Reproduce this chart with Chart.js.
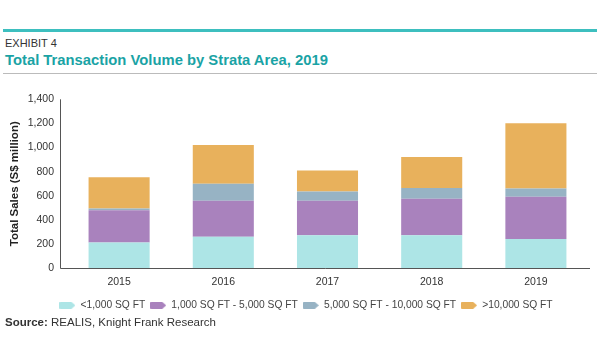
<!DOCTYPE html>
<html><head><meta charset="utf-8">
<script src="https://cdn.jsdelivr.net/npm/chart.js@4"></script>
<style>
html,body{margin:0;padding:0;background:#fff;width:600px;height:360px;overflow:hidden;font-family:"Liberation Sans",Arial,sans-serif;}
#topline{position:absolute;left:3px;top:29px;width:594px;height:3px;background:#3dbfbf;}
#exhibit{position:absolute;left:5px;top:37px;font-size:11px;color:#333;white-space:nowrap;}
#title{position:absolute;left:5px;top:52px;font-size:14.8px;font-weight:bold;color:#1aa3a5;white-space:nowrap;}
#rule{position:absolute;left:3px;top:73px;width:594px;height:1px;background:#bbb;}
#source{position:absolute;left:5px;top:316px;font-size:11.5px;color:#333;white-space:nowrap;}
#wrap{position:absolute;left:0;top:80px;width:612px;height:246px;}
</style>
</head><body>
<div id="topline"></div>
<div id="exhibit">EXHIBIT 4</div>
<div id="title">Total Transaction Volume by Strata Area, 2019</div>
<div id="rule"></div>
<div id="wrap"><canvas id="c" width="612" height="246"></canvas></div>
<div id="source"><b>Source:</b> REALIS, Knight Frank Research</div>
<script>
const categories = ['2015', '2016', '2017', '2018', '2019'];
const seriesNames = ['<1,000 SQ FT', '1,000 SQ FT - 5,000 SQ FT', '5,000 SQ FT - 10,000 SQ FT', '>10,000 SQ FT'];
const under1k = [214, 260, 273, 273, 243];
const from1kTo5k = [266, 299, 286, 303, 349];
const from5kTo10k = [16, 141, 76, 89, 68];
const over10k = [259, 322, 175, 256, 542];
const yTickValues = [0, 200, 400, 600, 800, 1000, 1200, 1400];
const yTickLabels = ['0', '200', '400', '600', '800', '1,000', '1,200', '1,400'];

const colors = ['#ade5e6', '#a982bd', '#97b3c4', '#e8b15c'];

function arrowIcon(color) {
  const cv = document.createElement('canvas');
  cv.width = 16; cv.height = 7;
  const g = cv.getContext('2d');
  g.fillStyle = color;
  g.beginPath();
  g.moveTo(1, 0); g.lineTo(12, 0); g.lineTo(16, 3.5); g.lineTo(12, 7); g.lineTo(1, 7);
  g.quadraticCurveTo(0, 7, 0, 6); g.lineTo(0, 1); g.quadraticCurveTo(0, 0, 1, 0);
  g.closePath(); g.fill();
  return cv;
}
const icons = colors.map(arrowIcon);

Chart.defaults.font.family = '"Liberation Sans", Arial, sans-serif';

const axisLines = {
  id: 'axisLines',
  afterLayout(chart) {
    if (chart.legend) { chart.legend.left += 12; chart.legend.right += 12; }
  },
  afterDatasetsDraw(chart) {
    const ctx = chart.ctx, a = chart.chartArea, y = chart.scales.y;
    ctx.save();
    ctx.strokeStyle = '#555';
    ctx.lineWidth = 1;
    ctx.beginPath();
    const lx = Math.round(a.left - 7) + 0.5;
    const by = Math.round(y.getPixelForValue(0)) + 0.5;
    ctx.moveTo(lx, y.getPixelForValue(1400));
    ctx.lineTo(lx, by);
    ctx.lineTo(a.right + 2, by);
    ctx.stroke();
    ctx.restore();
  }
};

const data = [under1k, from1kTo5k, from5kTo10k, over10k];

new Chart(document.getElementById('c'), {
  type: 'bar',
  data: {
    labels: categories,
    datasets: data.map((d, i) => ({
      label: seriesNames[i],
      data: d,
      backgroundColor: colors[i],
      borderWidth: 0,
      categoryPercentage: 1,
      barPercentage: 0.586
    }))
  },
  options: {
    responsive: false,
    animation: false,
    layout: { padding: { top: 16, right: 24, bottom: 5.5, left: 0 } },
    plugins: {
      tooltip: { enabled: false },
      legend: {
        position: 'bottom',
        labels: {
          font: { size: 10.25 },
          color: '#444',
          usePointStyle: true,
          pointStyleWidth: 16,
          padding: 5,
          generateLabels(chart) {
            const items = Chart.defaults.plugins.legend.labels.generateLabels(chart);
            items.forEach((it, i) => { it.pointStyle = icons[i]; });
            return items;
          }
        }
      }
    },
    scales: {
      x: {
        stacked: true,
        grid: { display: false, drawTicks: false },
        border: { display: false },
        ticks: { font: { size: 10.5 }, color: '#333', padding: 8 },
        afterFit(s) { s.height = 27; }
      },
      y: {
        stacked: true,
        min: 0, max: 1400,
        grid: { display: false, drawTicks: false },
        border: { display: false },
        afterBuildTicks(s) { s.ticks = yTickValues.map(v => ({ value: v })); },
        ticks: {
          font: { size: 10.5 }, color: '#333', padding: 13,
          callback(v) { return yTickLabels[yTickValues.indexOf(v)]; }
        },
        title: {
          display: true,
          text: 'Total Sales (S$ million)',
          font: { size: 11.5, weight: 'bold' },
          color: '#222',
          padding: { top: 8, bottom: 0 }
        },
        afterFit(s) { s.width = 67; }
      }
    }
  },
  plugins: [axisLines]
});
</script>
</body></html>
